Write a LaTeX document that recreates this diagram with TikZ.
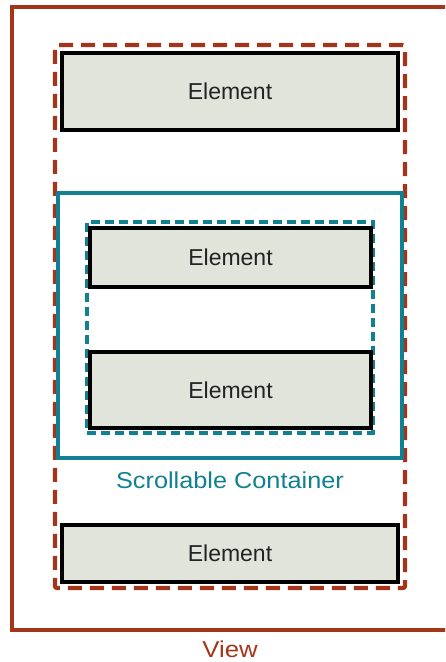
\documentclass[tikz,border=0pt]{standalone}
\usepackage{fontspec}
\setmainfont{Liberation Sans}
\definecolor{viewred}{RGB}{163,54,26}
\definecolor{teal}{RGB}{16,128,146}
\definecolor{elfill}{RGB}{224,228,218}
\definecolor{txt}{RGB}{35,35,35}
\begin{document}
\begin{tikzpicture}[x=1pt,y=-1pt,
  box/.style={draw,inner sep=0pt,outer sep=0pt,rectangle},
  element/.style={box,draw=black,line width=3.3pt,fill=elfill,text=txt,
    font=\fontsize{23}{26}\selectfont},
  lbl/.style={inner sep=0pt,font=\fontsize{23}{26}\selectfont}
]
\useasboundingbox (0,0) rectangle (445,662);
\clip (0,0) rectangle (445,662);
% View
\node[box,draw=viewred,line width=3.3pt,minimum width=458pt,minimum height=623pt] (view) at (241,318.5) {};
\node[lbl,text=viewred] (viewlbl) at (230,649) {\scalebox{1.12}[1]{View}};
% red dashed
\node[box,draw=viewred,line width=4.2pt,dash pattern=on 14pt off 8pt,rounded corners=2pt,
  minimum width=350pt,minimum height=543pt] (reddash) at (230,316.5) {};
% teal solid
\node[box,draw=teal,line width=4pt,minimum width=344pt,minimum height=265pt] (scroll) at (230,325.5) {};
\node[lbl,text=teal] (scrolllbl) at (230,480) {\scalebox{1.1}[1]{Scrollable Container}};
% teal dashed
\node[box,draw=teal,line width=4.3pt,dash pattern=on 9pt off 5pt,
  minimum width=286pt,minimum height=211pt] (tealdash) at (230,327.5) {};
% elements
\node[element,minimum width=336pt,minimum height=77pt] (e1) at (230,91.5) {Element};
\node[element,minimum width=281pt,minimum height=59pt] (e2) at (230.5,257.5) {Element};
\node[element,minimum width=281pt,minimum height=76pt] (e3) at (230.5,390) {Element};
\node[element,minimum width=336pt,minimum height=57pt] (e4) at (230,553.5) {Element};
\end{tikzpicture}
\end{document}
